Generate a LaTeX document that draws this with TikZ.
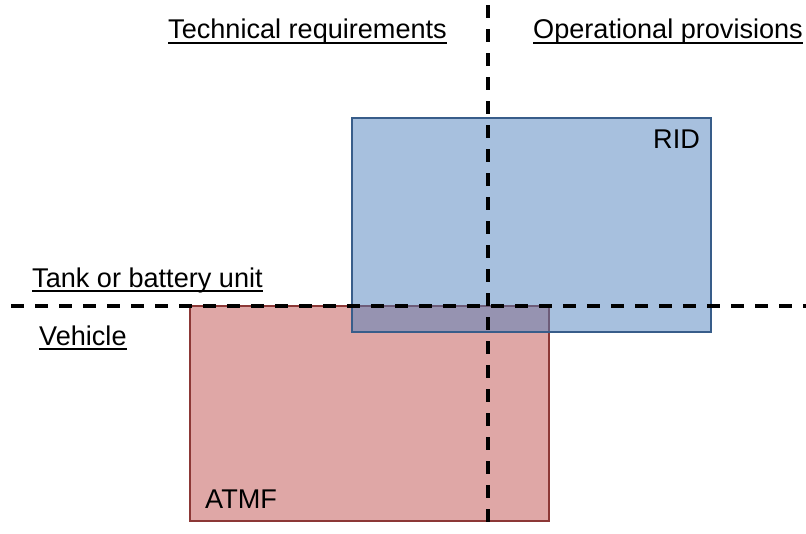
\documentclass[tikz,border=0pt]{standalone}
\usepackage{fontspec}
\setmainfont{Liberation Sans}
\definecolor{ridblue}{HTML}{4F81BD}
\definecolor{ridedge}{HTML}{385D8A}
\definecolor{atmfred}{HTML}{C0504D}
\definecolor{atmfedge}{HTML}{8C3836}
\begin{document}
\begin{tikzpicture}[x=1pt, y=-1pt, label node/.style={anchor=base west,inner sep=0pt,font=\fontsize{27.1}{30}\selectfont},ul/.style={line width=1.6pt},split line/.style={line width=3.5pt,dash pattern=on 13pt off 11pt}]
\useasboundingbox (0,0) rectangle (806,533);
\begin{scope}
\draw[atmfedge, line width=1.5pt, fill=atmfred, fill opacity=.5] (190,306) rectangle (549,521);
\draw[ridedge, line width=1.5pt, fill=ridblue, fill opacity=.5] (352,118) rectangle (711,332);
\end{scope}
\coordinate (vtop) at (488,5);
\coordinate (vbot) at (488,533);
\coordinate (hleft) at (11,306);
\coordinate (hright) at (806,306);
\draw[split line] (vtop) -- (vbot);
\draw[split line] (hleft) -- (hright);
\begin{scope}[every node/.style={label node}]
\node (tech) at (168,38) {Technical requirements};
\node (oper) at (533,38) {Operational provisions};
\node (tank) at (32,287) {Tank or battery unit};
\node (veh) at (39,345) {Vehicle};
\node (rid) at (653,148) {RID};
\node (atmf) at (205,508) {ATMF};
\end{scope}
\begin{scope}
\draw[ul] ([yshift=-5pt]tech.base west) -- ([yshift=-5pt]tech.base east);
\draw[ul] ([yshift=-5pt]oper.base west) -- ([yshift=-5pt]oper.base east);
\draw[ul] ([yshift=-4pt]tank.base west) -- ([yshift=-4pt]tank.base east);
\draw[ul] ([yshift=-4pt]veh.base west) -- ([yshift=-4pt]veh.base east);
\end{scope}
\end{tikzpicture}
\end{document}
